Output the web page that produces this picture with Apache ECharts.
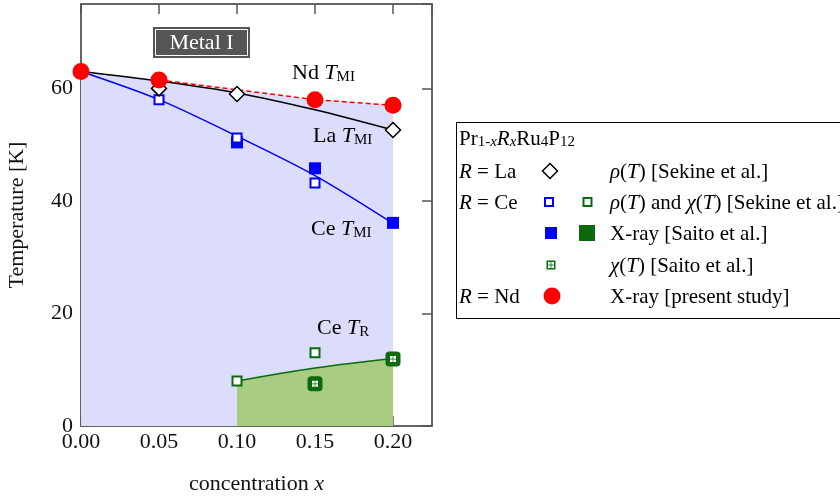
<!DOCTYPE html>
<html>
<head>
<meta charset="utf-8">
<script src="https://cdn.jsdelivr.net/npm/echarts@6/dist/echarts.min.js"></script>
<style>
  html, body { margin: 0; padding: 0; background: #fff; }
  #chart { width: 840px; height: 498px; }
</style>
</head>
<body>
<div id="chart"></div>
<script>
// values (x = concentration, T in K)
const ndX = [0, 0.05, 0.15, 0.20]
const ndT = [63, 61.5, 58, 57]
const ndLineX = [0.05, 0.15, 0.20]
const ndLineT = [61.5, 58, 57]

const laX = [0.05, 0.10, 0.20]
const laT = [60, 59, 52.6]
const laFitX = [0, 0.05, 0.10, 0.15, 0.20]
const laFitT = [63, 61.3, 59.2, 56.2, 52.6]

const ceMiFitX = [0, 0.05, 0.10, 0.15, 0.20]
const ceMiFitT = [63, 58, 51.5, 44.5, 36]
const ceMiOpenX = [0.05, 0.10, 0.15]
const ceMiOpenT = [58, 51.2, 43.2]
const ceMiXrayX = [0.10, 0.15, 0.20]
const ceMiXrayT = [50.4, 45.8, 36.1]

const ceROpenX = [0.10, 0.15]
const ceROpenT = [8.0, 13]
const ceRXrayX = [0.15, 0.20]
const ceRXrayT = [7.5, 11.9]
const ceRFitX = [0.10, 0.15, 0.20]
const ceRFitT = [8.0, 10.3, 12]

const xTicks = [0, 0.05, 0.10, 0.15, 0.20]
const yTicks = [0, 20, 40, 60]

const FONT = '"Liberation Serif", "DejaVu Serif", serif'
const BLUE = '#0000ff'
const RED = '#ff0000'
const GREEN = '#0b6a0b'
const GRID4 = 'path://M0,0h4v4h-4z M5,0h4v4h-4z M0,5h4v4h-4z M5,5h4v4h-4z'

function zip(xs, ys) {
    return xs.map((x, i) => [x, ys[i]])
}

// rich styles for text with italics and subscripts
function rich(color, size) {
    const sub = Math.round(size * 0.7)
    const lh = size + 3
    return {
        n: { fontFamily: FONT, fontSize: size, color: color, lineHeight: lh, verticalAlign: 'bottom' },
        i: { fontFamily: FONT, fontSize: size, color: color, fontStyle: 'italic', lineHeight: lh, verticalAlign: 'bottom' },
        s: { fontFamily: FONT, fontSize: sub, color: color, lineHeight: 10, verticalAlign: 'bottom' },
        si: { fontFamily: FONT, fontSize: sub, color: color, fontStyle: 'italic', lineHeight: 10, verticalAlign: 'bottom' }
    }
}

function label(x, y, text, color, size) {
    return {
        type: 'text', x: x, y: y, z: 50,
        style: { text: text, rich: rich(color, size || 22), verticalAlign: 'middle' }
    }
}

function box(x, y, w, h, fill, text) {
    return {
        type: 'group', z: 40,
        children: [
            { type: 'rect', shape: { x: x, y: y, width: w, height: h }, style: { fill: fill } },
            { type: 'rect', shape: { x: x + 2.5, y: y + 2.5, width: w - 5, height: h - 5 }, style: { fill: null, stroke: '#fff', lineWidth: 1 } },
            { type: 'text', x: x + w / 2, y: y + h / 2 + 1, style: { text: text, fill: '#fff', font: '22px ' + FONT, align: 'center', verticalAlign: 'middle' } }
        ]
    }
}

const chart = echarts.init(document.getElementById('chart'))

// legend box drawn as graphics
const lgX = 456.5
const rowY = [138, 171, 202, 233, 265, 296]
const txtX = 610
const LG = 21
const legend = [
    { type: 'rect', z: 50, shape: { x: lgX, y: 122.5, width: 400, height: 196 }, style: { fill: '#fff', stroke: '#000', lineWidth: 1 } },
    label(459, rowY[0], '{n|Pr}{s|1-}{si|x}{i|R}{si|x}{n|Ru}{s|4}{n|P}{s|12}', '#000', LG),
    label(459, rowY[1], '{i|R}{n| = La}', '#000', LG),
    label(459, rowY[2], '{i|R}{n| = Ce}', '#000', LG),
    label(459, rowY[5], '{i|R}{n| = Nd}', '#000', LG),
    label(txtX, rowY[1], '{i|ρ}{n|(}{i|T}{n|) [Sekine et al.]}', '#000', LG),
    label(txtX, rowY[2], '{i|ρ}{n|(}{i|T}{n|) and }{i|χ}{n|(}{i|T}{n|) [Sekine et al.]}', '#000', LG),
    label(txtX, rowY[3], '{n|X-ray [Saito et al.]}', '#000', LG),
    label(txtX, rowY[4], '{i|χ}{n|(}{i|T}{n|) [Saito et al.]}', '#000', LG),
    label(txtX, rowY[5], '{n|X-ray [present study]}', '#000', LG),
    // legend markers
    { type: 'polygon', z: 55, shape: { points: [[550, rowY[1] - 7.5], [557.5, rowY[1]], [550, rowY[1] + 7.5], [542.5, rowY[1]]] }, style: { fill: '#fff', stroke: '#000', lineWidth: 1.5 } },
    { type: 'rect', z: 55, shape: { x: 545, y: rowY[2] - 4, width: 8, height: 8 }, style: { fill: '#fff', stroke: BLUE, lineWidth: 2 } },
    { type: 'rect', z: 55, shape: { x: 583.5, y: rowY[2] - 4, width: 8, height: 8 }, style: { fill: '#fff', stroke: GREEN, lineWidth: 2 } },
    { type: 'rect', z: 55, shape: { x: 545, y: rowY[3] - 6, width: 12, height: 12 }, style: { fill: BLUE } },
    { type: 'rect', z: 55, shape: { x: 579, y: rowY[3] - 8, width: 16, height: 16 }, style: { fill: GREEN } },
    { type: 'rect', z: 55, shape: { x: 546.5, y: rowY[4] - 4.5, width: 9, height: 9 }, style: { fill: GREEN } },
    { type: 'rect', z: 56, shape: { x: 548, y: rowY[4] - 3, width: 2.6, height: 2.6 }, style: { fill: '#fff' } },
    { type: 'rect', z: 56, shape: { x: 551.4, y: rowY[4] - 3, width: 2.6, height: 2.6 }, style: { fill: '#fff' } },
    { type: 'rect', z: 56, shape: { x: 548, y: rowY[4] + 0.4, width: 2.6, height: 2.6 }, style: { fill: '#fff' } },
    { type: 'rect', z: 56, shape: { x: 551.4, y: rowY[4] + 0.4, width: 2.6, height: 2.6 }, style: { fill: '#fff' } },
    { type: 'circle', z: 55, shape: { cx: 552, cy: rowY[5], r: 8.5 }, style: { fill: RED } }
]

const annotations = [
    label(292, 72, '{n|Nd }{i|T}{s|MI}', RED),
    label(313, 135, '{n|La }{i|T}{s|MI}', '#000'),
    label(311, 228, '{n|Ce }{i|T}{s|MI}', BLUE),
    label(317, 327, '{n|Ce }{i|T}{s|R}', GREEN),
    box(153, 27, 97, 31, '#555555', 'Metal I'),
    box(146, 242, 121, 31, BLUE, 'Nonmetal'),
    box(202, 391, 104, 31, '#006400', 'Metal II')
]

const axisLine = { show: true, onZero: false, lineStyle: { color: '#333', width: 1.5 } }
const axisTick = { show: true, inside: true, length: 10, lineStyle: { color: '#555', width: 1.5 } }

chart.setOption({
    animation: false,
    grid: { left: 81, right: 408, top: 4, bottom: 72, show: false, outerBoundsMode: 'none', containLabel: false },
    xAxis: [
        {
            type: 'value', min: 0, max: 0.225, interval: 0.05, position: 'bottom',
            axisLine: axisLine, axisTick: axisTick, splitLine: { show: false },
            axisLabel: {
                showMaxLabel: false, margin: 5, color: '#111', fontFamily: FONT, fontSize: 22,
                formatter: v => (xTicks.some(t => Math.abs(t - v) < 1e-6) ? v.toFixed(2) : '')
            },
            name: '{n|concentration }{i|x}', nameLocation: 'middle', nameGap: 44,
            nameTextStyle: { rich: rich('#111', 22) }
        },
        {
            type: 'value', min: 0, max: 0.225, interval: 0.05, position: 'top',
            axisLine: axisLine, axisTick: axisTick, splitLine: { show: false }, axisLabel: { show: false }
        }
    ],
    yAxis: [
        {
            type: 'value', min: 0, max: 75, interval: 20, position: 'left',
            axisLine: axisLine, axisTick: axisTick, splitLine: { show: false },
            axisLabel: {
                showMaxLabel: false, margin: 8, color: '#111', fontFamily: FONT, fontSize: 22,
                formatter: v => (yTicks.indexOf(v) >= 0 ? String(v) : '')
            },
            name: 'Temperature [K]', nameLocation: 'middle', nameGap: 53,
            nameTextStyle: { color: '#111', fontFamily: FONT, fontSize: 22 }
        },
        {
            type: 'value', min: 0, max: 75, interval: 20, position: 'right',
            axisLine: axisLine, axisTick: axisTick, splitLine: { show: false }, axisLabel: { show: false }
        }
    ],
    graphic: legend.concat(annotations),
    series: [
        // nonmetal region
        {
            type: 'line', data: zip(ndX, ndT), symbol: 'none', z: 1,
            lineStyle: { width: 0 }, areaStyle: { color: '#dcdcfb', opacity: 1 }
        },
        // metal II region and Ce T_R
        {
            type: 'line', data: zip(ceRFitX, ceRFitT), symbol: 'none', smooth: 0.4, z: 2,
            lineStyle: { color: GREEN, width: 1.5 }, areaStyle: { color: '#a8cd82', opacity: 1 }
        },
        {
            type: 'line', data: zip(laFitX, laFitT), symbol: 'none', smooth: 0.3, z: 3,
            lineStyle: { color: '#000', width: 1.5 }
        },
        {
            type: 'line', data: zip(ceMiFitX, ceMiFitT), symbol: 'none', smooth: 0.3, z: 3,
            lineStyle: { color: BLUE, width: 1.5 }
        },
        {
            type: 'line', data: zip(ndLineX, ndLineT), symbol: 'none', z: 3,
            lineStyle: { color: RED, width: 1.5, type: [5, 3] }
        },
        // markers
        {
            type: 'scatter', data: zip(ceMiXrayX, ceMiXrayT), symbol: 'rect', symbolSize: 12, z: 4,
            itemStyle: { color: BLUE, opacity: 1 }
        },
        {
            type: 'scatter', data: zip(ceMiOpenX, ceMiOpenT), symbol: 'rect', symbolSize: 9, z: 5,
            itemStyle: { color: '#fff', borderColor: BLUE, borderWidth: 2, opacity: 1 }
        },
        {
            type: 'scatter', data: zip(ceROpenX, ceROpenT), symbol: 'rect', symbolSize: 9, z: 5,
            itemStyle: { color: '#fff', borderColor: GREEN, borderWidth: 2, opacity: 1 }
        },
        {
            type: 'scatter', data: zip(ceRXrayX, ceRXrayT), symbol: 'roundRect', symbolSize: 15, z: 5,
            itemStyle: { color: GREEN, opacity: 1 }
        },
        {
            type: 'scatter', data: zip(ceRXrayX, ceRXrayT), symbol: GRID4, symbolSize: 6, z: 6,
            itemStyle: { color: '#fff', opacity: 1 }
        },
        {
            type: 'scatter', data: zip(laX, laT), symbol: 'diamond', symbolSize: 15, z: 6,
            itemStyle: { color: '#fff', borderColor: '#000', borderWidth: 1.5, opacity: 1 }
        },
        {
            type: 'scatter', data: zip(ndX, ndT), symbol: 'circle', symbolSize: 17, z: 7,
            itemStyle: { color: RED, opacity: 1 }
        }
    ]
})
</script>
</body>
</html>
